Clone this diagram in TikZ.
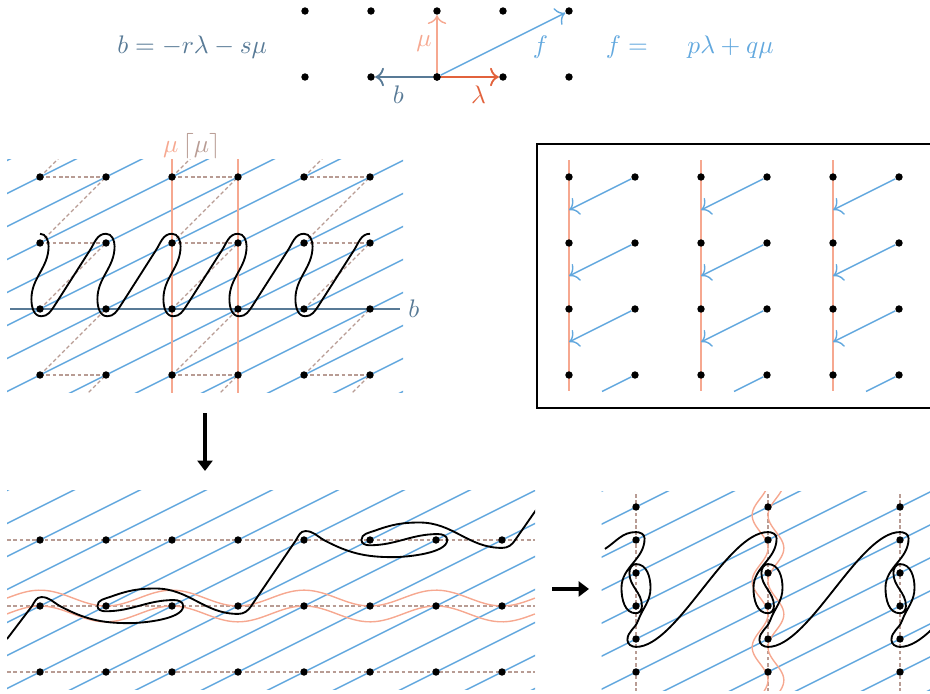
\documentclass[tikz,border=0pt]{standalone}
\usetikzlibrary{arrows.meta}

\definecolor{bcol}{RGB}{88,122,150}
\definecolor{mucol}{RGB}{246,168,144}
\definecolor{lamcol}{RGB}{226,98,60}
\definecolor{fcol}{RGB}{98,168,222}
\definecolor{dashcol}{RGB}{184,156,148}

\tikzset{
  dot/.style={circle,fill=black,inner sep=0pt,minimum size=3.2pt},
  fline/.style={fcol,line width=0.6pt},
  dline/.style={dashcol,line width=0.5pt,dash pattern=on 1.6pt off 1.1pt},
  muline/.style={mucol,line width=0.6pt},
  curve/.style={black,line width=0.8pt},
  vec/.style={-{To[length=3.8pt,width=8pt]}},
  bigarrow/.style={line width=1.7pt,-{Triangle[length=4.5pt,width=6.5pt]}}
}

\begin{document}
\begin{tikzpicture}[font=\fontsize{11}{13}\selectfont]
\useasboundingbox (0,0) rectangle (14.0909,10.5);

% basis vectors
\begin{scope}[shift={(6.6212,9.3333)}]
  \foreach \i in {-2,...,2}
    \foreach \j in {0,1}
      \node[dot] (t\i\j) at (\i,\j) {};
  \node[dot] (o) at (0,0) {};
  \draw[vec,mucol,line width=0.6pt] (o) -- (t01) node[midway,left,inner sep=2pt] {$\mu$};
  \draw[vec,lamcol,line width=0.8pt] (o) -- (t10) node[pos=0.65,below] {$\lambda$};
  \draw[vec,bcol,line width=0.8pt] (o) -- (t-10) node[pos=0.6,below] {$b$};
  \draw[vec,fcol,line width=0.6pt] (o) -- (t21) node[pos=0.8,below=1pt] {$f$};
  \node[bcol] (beq) at (-3.71,0.45) {$b = -r\lambda - s\mu$};
  \node[fcol] (feq) at (3.83,0.45) {$f = \quad\; p\lambda + q\mu$};
\end{scope}

% spring on the lattice
\begin{scope}[shift={(0.6061,4.8182)}]
  \begin{scope}
    \clip (-0.5,-0.26) rectangle (5.5,3.27);
    \foreach \k in {-8,...,6}
      \draw[fline] (\k-2,-1) -- (\k+8,4);
    \foreach \m in {0,2,4} {
      \foreach \j in {0,...,3}
        \draw[dline] (\m,\j) -- (\m+1,\j);
      \foreach \j in {-1,...,3}
        \draw[dline] (\m,\j) -- (\m+1,\j+1);
    }
    \foreach \x in {2,3}
      \draw[muline] (\x,-1) -- (\x,4);
  \end{scope}
  \coordinate (bl) at (-0.45,1);
  \coordinate (br) at (5.45,1);
  \draw[bcol,line width=0.8pt] (bl) -- (br) node[right] {$b$};
  \node (mulab) at (2.3,3.47) {{\color{mucol}$\mu$}\,{\color{dashcol}$\lceil\mu\rceil$}};
  \draw[curve] (0,2.14)
    \foreach \c in {0,...,4} {
      to[out=0,in=90] (\c+0.13,1.95)
      to[out=-90,in=90] (\c-0.13,1.15)
      to[out=-90,in=180] (\c+0.02,0.89)
      to[out=0,in=236] (\c+0.22,1.05)
      -- (\c+0.75,1.88)
      to[out=56,in=180] (\c+1,2.14)
    };
  \foreach \i in {0,...,5}
    \foreach \j in {0,...,3}
      \node[dot] (a\i\j) at (\i,\j) {};
\end{scope}

% box
\begin{scope}[shift={(8.6212,4.8182)}]
  \draw[line width=0.8pt] (5.8,3.5) -- (-0.485,3.5) -- (-0.485,-0.5) -- (5.8,-0.5);
  \foreach \x in {0,2,4}
    \draw[muline] (\x,-0.24) -- (\x,3.26);
  \foreach \i in {0,...,5}
    \foreach \j in {0,...,3}
      \node[dot] (c\i\j) at (\i,\j) {};
  \foreach \x/\y in {0/1,2/3,4/5} {
    \foreach \j in {1,2,3}
      \draw[fline,vec] (c\y\j) -- (\x,\j-0.5);
    \draw[fline] (c\y0) -- (\x+0.5,-0.25);
  }
\end{scope}

% arrows between panels
\coordinate (dtop) at (3.106,4.242);
\coordinate (dbot) at (3.106,3.364);
\draw[bigarrow] (dtop) -- (dbot);
\coordinate (rl) at (8.364,1.576);
\coordinate (rr) at (8.924,1.576);
\draw[bigarrow] (rl) -- (rr);

% bottom left
\begin{scope}[shift={(0.6061,0.3182)}]
  \begin{scope}
    \clip (-0.5,-0.26) rectangle (7.5,2.745);
    \foreach \k in {-7,...,9}
      \draw[fline] (\k-2,-1) -- (\k+6,3);
    \foreach \j in {0,1,2}
      \draw[dline] (-0.5,\j) -- (7.5,\j);
    \draw[muline] plot[domain=-0.5:7.5,samples=120,smooth] (\x,{1.12+0.12*cos(180*\x)});
    \draw[muline] plot[domain=-0.5:7.5,samples=120,smooth] (\x,{0.88+0.12*cos(180*\x)});
    \draw[curve] (-0.5,0.5)
      \foreach \a/\b in {0/1,4/2} {
        -- (\a-0.12,\b)
        to[out=60,in=180] (\a+0.02,\b+0.135)
        to[out=0,in=150] (\a+0.3,\b)
        to[out=-28,in=180] (\a+1.35,\b-0.26)
        to[out=0,in=-90,looseness=0.6] (\a+2.17,\b)
        to[out=90,in=0] (\a+2.03,\b+0.09)
        to[out=180,in=0] (\a+0.99,\b-0.08)
        to[out=180,in=-90] (\a+0.87,\b)
        to[out=90,in=200] (\a+1.07,\b+0.14)
        to[out=20,in=180] (\a+1.75,\b+0.265)
        to[out=0,in=180] (\a+3,\b-0.12)
        to[out=0,in=237] (\a+3.2,\b)
      } -- (7.88,2.98);
  \end{scope}
  \foreach \i in {0,...,7}
    \foreach \j in {0,1,2}
      \node[dot] (d\i\j) at (\i,\j) {};
\end{scope}

% bottom right
\begin{scope}[shift={(9.6364,0.3182)},y=0.5cm]
  \begin{scope}
    \clip (-0.52,-0.55) rectangle (4.6,5.48);
    \foreach \k in {-7,...,5}
      \draw[fline] (\k-1,-1) -- (\k+7,7);
    \foreach \x in {0,2,4}
      \draw[dline] (\x,-0.6) -- (\x,5.5);
    \draw[muline] plot[domain=-0.6:5.5,samples=100,smooth,variable=\t] ({1.88+0.12*cos(180*(\t-1.75))},\t);
    \draw[muline] plot[domain=-0.6:5.5,samples=100,smooth,variable=\t] ({2.12+0.12*cos(180*(\t-1.75))},\t);
    \draw[curve] (-0.47,3.73) to[out=33,in=180] (0,4.24)
      \foreach \c in {0,2,4} {
        to[out=0,in=90] (\c+0.13,4.05)
        to[out=-90,in=90] (\c-0.22,2.55)
        to[out=-90,in=180] (\c,1.78)
        to[out=0,in=-90] (\c+0.09,2.0)
        to[out=90,in=-90] (\c-0.1,3.0)
        to[out=90,in=180] (\c,3.27)
        to[out=0,in=90] (\c+0.22,2.55)
        to[out=-90,in=70] (\c+0.03,1.55)
        to[out=250,in=90] (\c-0.13,0.97)
        to[out=-90,in=180] (\c,0.76)
        to[out=0,in=180,looseness=0.6] (\c+2,4.24)
      };
  \end{scope}
  \foreach \i in {0,2,4}
    \foreach \j in {0,...,5}
      \node[dot] (e\i\j) at (\i,\j) {};
\end{scope}
\end{tikzpicture}
\end{document}
